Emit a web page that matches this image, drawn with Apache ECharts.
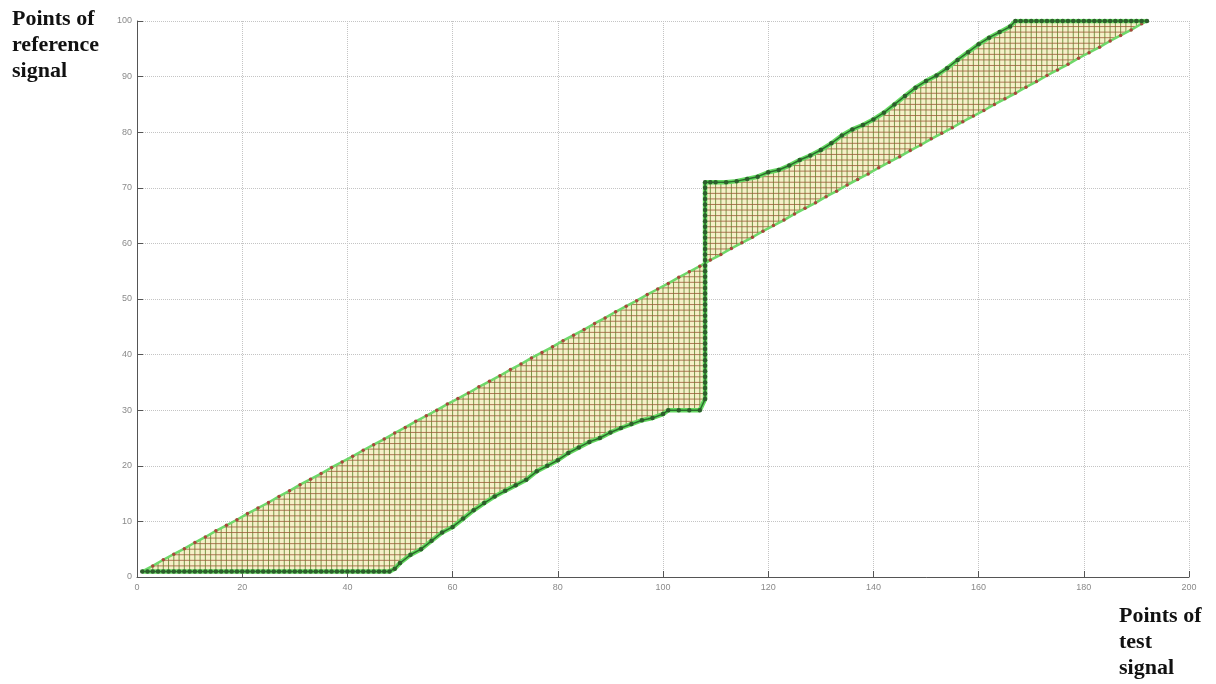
<!DOCTYPE html>
<html><head><meta charset="utf-8">
<script src="https://cdn.jsdelivr.net/npm/echarts@6/dist/echarts.min.js"></script>
<style>html,body{margin:0;padding:0;background:#fff}#c{width:1216px;height:684px}</style>
</head><body><div id="c"></div><script>
// Axis settings (ticks generated by the library)
const xMin = 0, xMax = 200, xStep = 20;
const yMin = 0, yMax = 100, yStep = 10;
const yTitle = 'Points of\nreference\nsignal';
const xTitle = 'Points of\ntest\nsignal';

// Linear (reference) alignment path: [test index, reference index]
const linearPath = [[1,1],[3,2],[5,3.1],[7,4.1],[9,5.1],[11,6.2],[13,7.2],[15,8.3],[17,9.3],[19,10.3],[21,11.4],[23,12.4],[25,13.4],[27,14.5],[29,15.5],[31,16.6],[33,17.6],[35,18.6],[37,19.7],[39,20.7],[41,21.7],[43,22.8],[45,23.8],[47,24.8],[49,25.9],[51,26.9],[53,28],[55,29],[57,30],[59,31.1],[61,32.1],[63,33.1],[65,34.2],[67,35.2],[69,36.2],[71,37.3],[73,38.3],[75,39.4],[77,40.4],[79,41.4],[81,42.5],[83,43.5],[85,44.5],[87,45.6],[89,46.6],[91,47.7],[93,48.7],[95,49.7],[97,50.8],[99,51.8],[101,52.8],[103,53.9],[105,54.9],[107,55.9],[109,57],[111,58],[113,59.1],[115,60.1],[117,61.1],[119,62.2],[121,63.2],[123,64.2],[125,65.3],[127,66.3],[129,67.3],[131,68.4],[133,69.4],[135,70.5],[137,71.5],[139,72.5],[141,73.6],[143,74.6],[145,75.6],[147,76.7],[149,77.7],[151,78.8],[153,79.8],[155,80.8],[157,81.9],[159,82.9],[161,83.9],[163,85],[165,86],[167,87],[169,88.1],[171,89.1],[173,90.2],[175,91.2],[177,92.2],[179,93.3],[181,94.3],[183,95.3],[185,96.4],[187,97.4],[189,98.4],[191,99.5],[192,100]];

// DTW warping path: [test index, reference index]
const warpPath = [
[1,1],[2,1],[3,1],[4,1],[5,1],[6,1],[7,1],[8,1],[9,1],[10,1],[11,1],[12,1],[13,1],[14,1],[15,1],[16,1],[17,1],[18,1],[19,1],[20,1],[21,1],[22,1],[23,1],[24,1],[25,1],[26,1],[27,1],[28,1],[29,1],[30,1],[31,1],[32,1],[33,1],[34,1],[35,1],[36,1],[37,1],[38,1],[39,1],[40,1],[41,1],[42,1],[43,1],[44,1],[45,1],[46,1],[47,1],[48,1],
[49,1.5],[50,2.5],[52,4],[54,5],[56,6.5],[58,8],[60,9],[62,10.5],[64,12],[66,13.3],[68,14.5],[70,15.5],[72,16.5],[74,17.5],[76,19],[78,20],[80,21],[82,22.3],[84,23.3],[86,24.3],[88,25],[90,26],[92,26.8],[94,27.5],[96,28.2],[98,28.6],[100,29.3],[101,30],[103,30],[105,30],[107,30],
[108,32],[108,33],[108,34],[108,35],[108,36],[108,37],[108,38],[108,39],[108,40],[108,41],[108,42],[108,43],[108,44],[108,45],[108,46],[108,47],[108,48],[108,49],[108,50],[108,51],[108,52],[108,53],[108,54],[108,55],[108,56],[108,57],[108,58],[108,59],[108,60],[108,61],[108,62],[108,63],[108,64],[108,65],[108,66],[108,67],[108,68],[108,69],[108,70],[108,71],
[109,71],[110,71],[112,71],[114,71.2],[116,71.6],[118,72],[120,72.8],[122,73.2],[124,74],[126,75],[128,75.8],[130,76.8],[132,78],[134,79.4],[136,80.5],[138,81.3],[140,82.3],[142,83.5],[144,85],[146,86.5],[148,88],[150,89.2],[152,90.2],[154,91.5],[156,93],[158,94.4],[160,95.8],[162,97],[164,98],[166,99],
[167,100],[168,100],[169,100],[170,100],[171,100],[172,100],[173,100],[174,100],[175,100],[176,100],[177,100],[178,100],[179,100],[180,100],[181,100],[182,100],[183,100],[184,100],[185,100],[186,100],[187,100],[188,100],[189,100],[190,100],[191,100],[192,100]
];

// range of the other coordinate where polyline crosses value v on axis a (0 = x, 1 = y)
function span(poly, v, a) {
  const b = 1 - a; let lo = Infinity, hi = -Infinity;
  for (let i = 0; i < poly.length - 1; i++) {
    const p = poly[i], q = poly[i + 1];
    const a0 = p[a], a1 = q[a];
    if (v < Math.min(a0, a1) || v > Math.max(a0, a1)) continue;
    if (a0 === a1) { lo = Math.min(lo, p[b], q[b]); hi = Math.max(hi, p[b], q[b]); }
    else { const t = (v - a0) / (a1 - a0); const w = p[b] + t * (q[b] - p[b]); lo = Math.min(lo, w); hi = Math.max(hi, w); }
  }
  return lo <= hi ? [lo, hi] : null;
}

function renderHatch(params, api) {
  const children = [];
  const pts = warpPath.map(p => api.coord(p)).concat(linearPath.slice().reverse().map(p => api.coord(p)));
  children.push({ type: 'polygon', shape: { points: pts }, style: { fill: '#f5f0c8' } });
  const xs0 = warpPath[0][0], xs1 = warpPath[warpPath.length - 1][0];
  for (let k = Math.ceil(xs0); k <= xs1; k++) {
    const d = span(linearPath, k, 0), p = span(warpPath, k, 0);
    if (!d || !p) continue;
    let seg = null;
    if (p[1] < d[0]) seg = [p[1], d[0]]; else if (p[0] > d[1]) seg = [d[1], p[0]];
    if (!seg) continue;
    const c1 = api.coord([k, seg[0]]), c2 = api.coord([k, seg[1]]);
    children.push({ type: 'line', shape: { x1: c1[0], y1: c1[1], x2: c2[0], y2: c2[1] }, style: { stroke: 'rgba(100,135,50,0.85)', lineWidth: 1 } });
  }
  const ys0 = warpPath[0][1], ys1 = warpPath[warpPath.length - 1][1];
  for (let j = Math.ceil(ys0); j <= ys1; j++) {
    const d = span(linearPath, j, 1), p = span(warpPath, j, 1);
    if (!d || !p) continue;
    let seg = null;
    if (p[1] < d[0]) seg = [p[1], d[0]]; else if (p[0] > d[1]) seg = [d[1], p[0]];
    if (!seg) continue;
    const c1 = api.coord([seg[0], j]), c2 = api.coord([seg[1], j]);
    children.push({ type: 'line', shape: { x1: c1[0], y1: c1[1], x2: c2[0], y2: c2[1] }, style: { stroke: 'rgba(155,90,55,0.8)', lineWidth: 1 } });
  }
  return { type: 'group', children };
}

const chart = echarts.init(document.getElementById('c'), null, { renderer: 'canvas' });
const axisLabel = { color: '#8a8a8a', fontSize: 9, fontFamily: 'Liberation Sans' };
const split = { show: true, lineStyle: { color: '#c4c4c4', type: 'dotted', width: 1 } };
chart.setOption({
  animation: false,
  backgroundColor: '#ffffff',
  grid: { left: 137, right: 27, top: 21, bottom: 107, containLabel: false },
  xAxis: {
    type: 'value', min: xMin, max: xMax, interval: xStep,
    axisLine: { show: true, onZero: false, lineStyle: { color: '#555', width: 1 } },
    axisTick: { show: true, inside: true, length: 6, lineStyle: { color: '#555' } },
    axisLabel: Object.assign({ margin: 6 }, axisLabel),
    splitLine: split
  },
  yAxis: {
    type: 'value', min: yMin, max: yMax, interval: yStep,
    axisLine: { show: true, onZero: false, lineStyle: { color: '#555', width: 1 } },
    axisTick: { show: true, inside: true, length: 6, lineStyle: { color: '#555' } },
    axisLabel: Object.assign({ margin: 5 }, axisLabel),
    splitLine: split
  },
  graphic: [
    { type: 'text', left: 12, top: 6, style: { text: yTitle, font: 'bold 22px "Liberation Serif"', lineHeight: 26, fill: '#111' } },
    { type: 'text', left: 1119, top: 603, style: { text: xTitle, font: 'bold 22px "Liberation Serif"', lineHeight: 26, fill: '#111' } }
  ],
  series: [
    { type: 'custom', coordinateSystem: 'cartesian2d', data: [[0, 0]], renderItem: renderHatch, silent: true, z: 1, clip: false },
    { type: 'line', data: linearPath, z: 3, symbol: 'circle', symbolSize: 3.5, showSymbol: true,
      lineStyle: { color: '#6fd86a', width: 2.5 }, itemStyle: { color: '#a8463a' } },
    { type: 'line', data: warpPath, z: 4, symbol: 'none',
      lineStyle: { color: '#64d860', width: 4.5 } },
    { type: 'line', data: warpPath, z: 5, symbol: 'circle', symbolSize: 4.5, showSymbol: true,
      lineStyle: { color: '#2b6e2c', width: 1.5 }, itemStyle: { color: '#2d5e2c' } }
  ]
});
</script></body></html>
